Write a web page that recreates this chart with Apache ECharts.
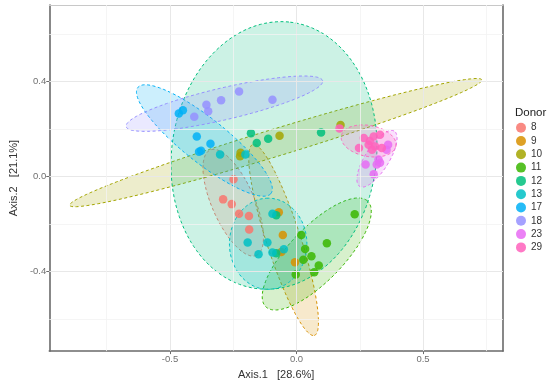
<!DOCTYPE html>
<html>
<head>
<meta charset="utf-8">
<script src="https://cdn.jsdelivr.net/npm/echarts@6/dist/echarts.min.js"></script>
<style>html,body{margin:0;padding:0;background:#fff}#c{width:550px;height:385px}</style>
</head>
<body>
<div id="c"></div>
<script>
// ---- data ----
const donors = ['8','9','10','11','12','13','17','18','23','29'];
const colors = ['#F8766D','#D89000','#A3A500','#39B600','#00BF7D','#00BFC4','#00B0F6','#9590FF','#E76BF3','#FF62BC'];

const pts8  = [[-0.249,-0.011],[-0.290,-0.096],[-0.256,-0.116],[-0.227,-0.157],[-0.188,-0.166],[-0.187,-0.223]];
const pts9  = [[-0.070,-0.150],[-0.054,-0.246],[-0.006,-0.361],[-0.060,-0.318]];
const pts10 = [[-0.067,0.172],[0.174,0.217],[-0.221,0.100],[-0.223,0.086]];
const pts11 = [[0.019,-0.246],[0.034,-0.305],[0.059,-0.336],[0.088,-0.375],[0.070,-0.403],[-0.003,-0.412],[0.027,-0.350],[0.120,-0.281],[0.230,-0.159]];
const pts12 = [[-0.180,0.183],[-0.157,0.141],[-0.112,0.159],[0.097,0.186],[-0.080,-0.163],[-0.080,-0.323]];
const pts13 = [[-0.302,0.093],[-0.202,0.093],[-0.095,-0.157],[-0.193,-0.278],[-0.150,-0.327],[-0.115,-0.278],[-0.095,-0.320],[-0.050,-0.306]];
const pts17 = [[-0.465,0.266],[-0.449,0.279],[-0.394,0.169],[-0.340,0.138],[-0.377,0.109],[-0.385,0.105]];
const pts18 = [[-0.227,0.358],[-0.298,0.321],[-0.095,0.324],[-0.356,0.303],[-0.349,0.275],[-0.404,0.252]];
const pts23 = [[0.362,0.134],[0.356,0.113],[0.324,0.072],[0.273,0.051],[0.305,0.010],[0.330,0.058],[0.317,0.051]];
const pts29 = [[0.170,0.203],[0.266,0.162],[0.305,0.169],[0.330,0.176],[0.285,0.134],[0.311,0.127],[0.337,0.120],[0.298,0.113],[0.247,0.120],[0.290,0.150]];
const points = [pts8,pts9,pts10,pts11,pts12,pts13,pts17,pts18,pts23,pts29];

// ellipse parameters per donor (centre, semi-axes, angle of major axis in degrees)
const ellCx    = [-0.250,-0.051,-0.082, 0.080,-0.089,-0.112,-0.364,-0.285, 0.318, 0.285];
const ellCy    = [-0.110,-0.267, 0.143,-0.326, 0.089,-0.283, 0.152, 0.307, 0.075, 0.150];
const ellA     = [ 0.240, 0.420, 0.856, 0.300, 0.565, 0.192, 0.345, 0.400, 0.135, 0.110];
const ellB     = [ 0.085, 0.068, 0.057, 0.110, 0.405, 0.153, 0.090, 0.067, 0.048, 0.065];
const ellAngle = [ -68, -73.2, 18, 48.4, 84, 90, -40.6, 14, 60, -12];

const xTicks = [-0.5, 0, 0.5];
const yTicks = [-0.4, 0, 0.4];
const xMinor = [-0.75, -0.25, 0.25, 0.75];
const yMinor = [-0.6, -0.2, 0.2, 0.6];

// ---- chart ----
function rgba(hex, a){
  const n = parseInt(hex.slice(1),16);
  return 'rgba('+((n>>16)&255)+','+((n>>8)&255)+','+(n&255)+','+a+')';
}
const XMIN=-0.977, XMAX=0.816, YMIN=-0.735, YMAX=0.7226;
const chart = echarts.init(document.getElementById('c'), null, {renderer:'canvas'});
const font = 'Liberation Sans, Arial, sans-serif';

const gridLines = [];
xTicks.forEach(v=>gridLines.push({xAxis:v, lineStyle:{color:'#e8e8e8', width:1, type:'solid'}}));
yTicks.forEach(v=>gridLines.push({yAxis:v, lineStyle:{color:'#e8e8e8', width:1, type:'solid'}}));
xMinor.forEach(v=>gridLines.push({xAxis:v, lineStyle:{color:'#f2f2f2', width:0.8, type:'solid'}}));
yMinor.forEach(v=>gridLines.push({yAxis:v, lineStyle:{color:'#f2f2f2', width:0.8, type:'solid'}}));

const series = [];
series.push({
  name:'grid', type:'scatter', data:[], z:0, silent:true,
  markLine:{silent:true, symbol:'none', label:{show:false}, animation:false,
    lineStyle:{type:'solid'}, data:gridLines}
});
series.push({
  name:'ellipses', type:'custom', z:1, silent:true, clip:true,
  data: donors.map((d,i)=>[ellCx[i], ellCy[i]]),
  encode:{x:0, y:1},
  renderItem(params, api){
    const i = params.dataIndex;
    const th = ellAngle[i]*Math.PI/180, c=Math.cos(th), s=Math.sin(th);
    const pts=[];
    for(let k=0;k<160;k++){
      const t=2*Math.PI*k/160;
      const u=ellA[i]*Math.cos(t), w=ellB[i]*Math.sin(t);
      pts.push(api.coord([ellCx[i]+u*c-w*s, ellCy[i]+u*s+w*c]));
    }
    return {type:'polygon', shape:{points:pts},
      style:{fill:rgba(colors[i],0.2), stroke:colors[i], lineWidth:1, lineDash:[3,2.5]}};
  }
});
donors.forEach((d,i)=>{
  series.push({
    name:d, type:'scatter', z:2, data:points[i], symbol:'circle', symbolSize:8.5,
    itemStyle:{color:colors[i], opacity:0.85}
  });
});

const fmt = v => (Math.abs(v)<1e-9 ? '0.0' : v.toFixed(1));

chart.setOption({
  animation:false,
  backgroundColor:'#fff',
  title:{text:'Donor', left:515, top:107, padding:0, textStyle:{fontFamily:font, fontSize:11.5, fontWeight:'normal', color:'#222'}},
  legend:{
    orient:'vertical', left:516, top:122.7, padding:0, icon:'circle', itemWidth:10, itemHeight:10, itemGap:3.3,
    data:donors,
    textStyle:{fontFamily:font, fontSize:10, color:'#333', lineHeight:10},
    itemStyle:{opacity:0.85}
  },
  grid:{left:37, right:47, top:5, bottom:29, show:false},
  xAxis:[{
    type:'value', min:XMIN, max:XMAX,
    name:'Axis.1   [28.6%]', nameLocation:'middle', nameGap:17,
    nameTextStyle:{fontFamily:font, fontSize:11, color:'#333'},
    axisLine:{show:true, onZero:false, lineStyle:{color:'#6a6a6a', width:1.6}},
    axisTick:{show:true, customValues:xTicks, length:3, lineStyle:{color:'#6a6a6a'}},
    axisLabel:{show:true, customValues:xTicks, formatter:fmt, margin:3, fontFamily:font, fontSize:9.5, color:'#707070'},
    splitLine:{show:false}
  },{
    type:'value', min:XMIN, max:XMAX, position:'top',
    axisLine:{show:true, onZero:false, lineStyle:{color:'#c8c8c8', width:1}},
    axisTick:{show:false}, axisLabel:{show:false}, splitLine:{show:false}
  }],
  yAxis:[{
    type:'value', min:YMIN, max:YMAX,
    name:'Axis.2   [21.1%]', nameLocation:'middle', nameGap:22,
    nameTextStyle:{fontFamily:font, fontSize:11, color:'#333'},
    axisLine:{show:true, onZero:false, lineStyle:{color:'#6a6a6a', width:1.6}},
    axisTick:{show:true, customValues:yTicks, length:3, lineStyle:{color:'#6a6a6a'}},
    axisLabel:{show:true, customValues:yTicks, formatter:fmt, margin:3, fontFamily:font, fontSize:9.5, color:'#707070'},
    splitLine:{show:false}
  },{
    type:'value', min:YMIN, max:YMAX, position:'right',
    axisLine:{show:true, onZero:false, lineStyle:{color:'#6a6a6a', width:1.6}},
    axisTick:{show:false}, axisLabel:{show:false}, splitLine:{show:false}
  }],
  series: series
});
</script>
</body>
</html>
